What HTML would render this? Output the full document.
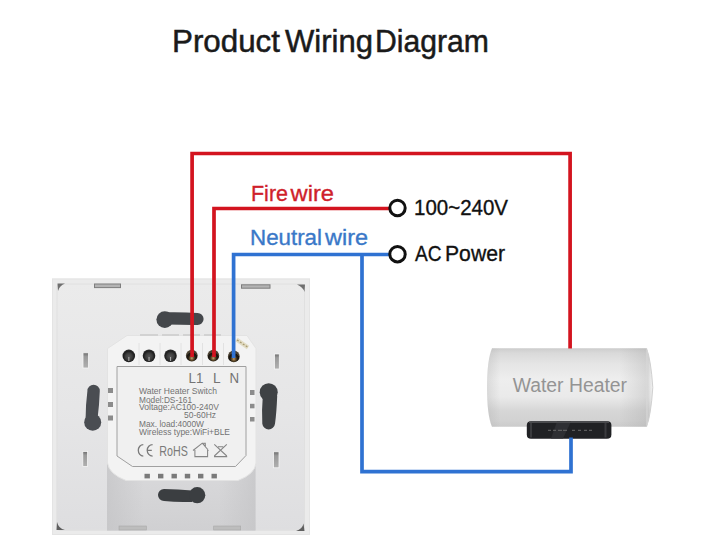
<!DOCTYPE html>
<html><head><meta charset="utf-8">
<style>
html,body{margin:0;padding:0;background:#fff;width:707px;height:560px;overflow:hidden;}
svg{display:block;font-family:"Liberation Sans",sans-serif;}
</style></head>
<body>
<svg width="707" height="560" viewBox="0 0 707 560">
<defs>
  <linearGradient id="faceG" x1="0" y1="0" x2="0" y2="1">
    <stop offset="0" stop-color="#ebebeb"/>
    <stop offset="0.5" stop-color="#e6e6e7"/>
    <stop offset="1" stop-color="#dedee0"/>
  </linearGradient>
  <linearGradient id="shadowG" x1="0" y1="0" x2="0" y2="1">
    <stop offset="0" stop-color="#dadadc"/>
    <stop offset="1" stop-color="#d0d0d2"/>
  </linearGradient>
  <linearGradient id="shadowEdge" x1="0" y1="0" x2="1" y2="0">
    <stop offset="0" stop-color="#c4c4c6" stop-opacity="0.7"/>
    <stop offset="0.25" stop-color="#c4c4c6" stop-opacity="0"/>
    <stop offset="0.75" stop-color="#c4c4c6" stop-opacity="0"/>
    <stop offset="1" stop-color="#c4c4c6" stop-opacity="0.7"/>
  </linearGradient>
  <linearGradient id="heaterG" x1="0" y1="0" x2="0" y2="1">
    <stop offset="0" stop-color="#cccccc"/>
    <stop offset="0.06" stop-color="#d9d9d9"/>
    <stop offset="0.2" stop-color="#e5e5e5"/>
    <stop offset="0.4" stop-color="#eeeeee"/>
    <stop offset="0.62" stop-color="#eaeaea"/>
    <stop offset="0.8" stop-color="#d6d6d6"/>
    <stop offset="0.92" stop-color="#d2d2d2"/>
    <stop offset="1" stop-color="#cbcbcb"/>
  </linearGradient>
  <linearGradient id="heaterH" x1="0" y1="0" x2="1" y2="0">
    <stop offset="0" stop-color="#a0a0a0" stop-opacity="0.25"/>
    <stop offset="0.08" stop-color="#a0a0a0" stop-opacity="0"/>
    <stop offset="0.8" stop-color="#a0a0a0" stop-opacity="0"/>
    <stop offset="0.97" stop-color="#a0a0a0" stop-opacity="0.3"/>
    <stop offset="1" stop-color="#ffffff" stop-opacity="0.2"/>
  </linearGradient>
  <radialGradient id="termDark" cx="0.5" cy="0.55" r="0.5">
    <stop offset="0" stop-color="#555"/>
    <stop offset="0.55" stop-color="#3a3a3a"/>
    <stop offset="0.85" stop-color="#1e1e1e"/>
    <stop offset="1" stop-color="#2a2a2a"/>
  </radialGradient>
  <radialGradient id="termCu" cx="0.5" cy="0.72" r="0.5">
    <stop offset="0" stop-color="#c8a070"/>
    <stop offset="0.3" stop-color="#6e5530"/>
    <stop offset="0.6" stop-color="#221c12"/>
    <stop offset="0.9" stop-color="#17140f"/>
    <stop offset="1" stop-color="#4a4030"/>
  </radialGradient>
  <linearGradient id="smallG" x1="0" y1="0" x2="0" y2="1">
    <stop offset="0" stop-color="#6e6e6e"/>
    <stop offset="0.25" stop-color="#9a9a9a"/>
    <stop offset="1" stop-color="#b0b0b0"/>
  </linearGradient>
</defs>

<!-- Title -->
<g fill="#1a1a1a" stroke="#1a1a1a" stroke-width="0.5" font-size="31">
<text x="172" y="52" textLength="108" lengthAdjust="spacingAndGlyphs">Product</text>
<text x="285" y="52" textLength="88" lengthAdjust="spacingAndGlyphs">Wiring</text>
<text x="375" y="52" textLength="114" lengthAdjust="spacingAndGlyphs">Diagram</text>
</g>

<!-- ===== Switch panel ===== -->
<rect x="52" y="278.5" width="258" height="256.5" fill="#ebebeb"/>
<rect x="52.5" y="279" width="257" height="255.5" fill="none" stroke="#e4e4e4" stroke-width="1"/>
<rect x="56.5" y="283.5" width="248.5" height="247" rx="3" fill="url(#faceG)"/>
<rect x="57" y="284" width="247.5" height="246" rx="3" fill="none" stroke="#e0e0e0" stroke-width="1"/>
<!-- corner triangles -->
<path d="M57.5 283.5 H65 Q59.5 285.5 58 291 Z" fill="#6f6f6f"/>
<path d="M305 284.5 H297 Q303 287 304.5 292 Z" fill="#6f6f6f"/>
<path d="M56.5 530 H65 Q58.5 528.5 57 522 Z" fill="#5f5f5f"/>
<path d="M304.5 531 H296 Q302.5 529 303.5 523.5 Z" fill="#5f5f5f"/>

<!-- shadow under module -->
<rect x="107" y="462" width="148.5" height="68.5" fill="url(#shadowG)"/>
<rect x="107" y="462" width="148.5" height="68.5" fill="url(#shadowEdge)"/>

<!-- top clips -->
<rect x="94.5" y="284" width="26" height="3.6" fill="#b4b4b4" stroke="#7e7e7e" stroke-width="1"/>
<rect x="241.5" y="284.8" width="28.5" height="3.4" fill="#b4b4b4" stroke="#7e7e7e" stroke-width="1"/>
<!-- bottom clips -->
<rect x="119" y="526" width="27.5" height="4" fill="#bdbdbd" stroke="#a8a8a8" stroke-width="0.6"/>
<rect x="213.7" y="526" width="27" height="4" fill="#bdbdbd" stroke="#a8a8a8" stroke-width="0.6"/>

<!-- slots -->
<g fill="#43464a">
<path d="M166 312.2 Q184 311.9 197.6 312.9 A6 6 0 0 1 197.6 324.9 Q184 325 166 324.5 Z" fill="#44474b"/>
<circle cx="164.8" cy="319.6" r="8.4" fill="#44474b"/>
<path d="M164 489 Q178 489.2 192 490.4 L192 501.9 Q178 502.6 164 501 A6 6 0 0 1 164 489 Z" fill="#3b3e41"/>
<circle cx="197.2" cy="495.2" r="8.1" fill="#3b3e41"/>
<path d="M87.4 391 A6.2 6.2 0 0 1 99.8 391 Q99.3 405 97.6 418 L85.6 419 Q85.6 405 87.4 391 Z" fill="#4a4d52"/>
<circle cx="92.7" cy="422.2" r="8.5" fill="#4a4d52"/>
<path d="M262.8 396 L277.2 396 Q276.6 412 275 423.8 A6.4 6.4 0 0 1 262.3 423.8 Q261.6 410 262.8 396 Z" fill="#3f4245"/>
<circle cx="268.7" cy="392.2" r="9" fill="#3f4245"/>
</g>

<!-- small rects on face -->
<g fill="url(#smallG)" stroke="#f6f6f6" stroke-width="0.8">
<rect x="83" y="352.8" width="5.4" height="15.2"/>
<rect x="82.8" y="451.5" width="4.8" height="15"/>
<rect x="274.5" y="354" width="4.8" height="15"/>
<rect x="273.5" y="451.8" width="5.5" height="16"/>
</g>

<!-- module body -->
<path d="M127 335.5 H247 L256 348.5 V463 Q255 474 238 480.5 H126 Q109 474 107.5 463 V348.5 Z" fill="#f3f3f3" stroke="#e3e3e3" stroke-width="1"/>
<!-- terminal strip separators -->
<g stroke="#e2e2e2" stroke-width="1">
<line x1="139" y1="343" x2="139" y2="365"/>
<line x1="160" y1="343" x2="160" y2="365"/>
<line x1="181" y1="343" x2="181" y2="365"/>
<line x1="202.5" y1="343" x2="202.5" y2="365"/>
<line x1="223.5" y1="343" x2="223.5" y2="365"/>
</g>
<g fill="#d2d2d2">
<rect x="140" y="334" width="18" height="2"/>
<rect x="162" y="334" width="17" height="2"/>
<rect x="183" y="334" width="17" height="2"/>
<rect x="204" y="334" width="17" height="2"/>
</g>
<!-- label box -->
<path d="M117 366.5 H246 V455.5 L235.5 466.5 H132.5 L117 456 Z" fill="#f0f0f0" stroke="#a0a0a0" stroke-width="1"/>

<!-- vents bottom -->
<g fill="#7a7a7a">
<rect x="144.5" y="473.8" width="5.4" height="4.6"/>
<rect x="158" y="473.8" width="5.4" height="4.6"/>
<rect x="171.5" y="473.8" width="5.4" height="4.6"/>
<rect x="184.8" y="473.8" width="5.4" height="4.6"/>
<rect x="198" y="473.8" width="5.4" height="4.6"/>
<rect x="211.5" y="473.8" width="5.4" height="4.6"/>
</g>
<!-- side vents of module -->
<g fill="#8c8c8c">
<rect x="108" y="388" width="5" height="5"/>
<rect x="108" y="402" width="5" height="5"/>
<rect x="108" y="415.5" width="5" height="5"/>
<rect x="250" y="390" width="4.5" height="5"/>
<rect x="250" y="403.8" width="4.5" height="4.5"/>
<rect x="250" y="417" width="4.5" height="4.5"/>
</g>

<!-- terminals -->
<circle cx="128.8" cy="355.9" r="6.3" fill="url(#termDark)"/>
<circle cx="149" cy="355.8" r="6.3" fill="url(#termDark)"/>
<circle cx="170.5" cy="355.8" r="6.3" fill="url(#termDark)"/>
<g fill="#a8a8a8">
<rect x="128.3" y="357" width="1.1" height="4"/>
<rect x="148.5" y="357" width="1.1" height="4"/>
<rect x="170" y="357" width="1.1" height="4"/>
</g>
<circle cx="191.8" cy="355.6" r="5.9" fill="url(#termCu)"/>
<circle cx="213.3" cy="355.6" r="5.9" fill="url(#termCu)"/>
<circle cx="233.8" cy="356.4" r="5.9" fill="url(#termCu)"/>
<!-- jumper -->
<path d="M236.5 339.5 L248 347.5" stroke="#e2dcc4" stroke-width="4"/><path d="M237 340 L247.5 347" stroke="#a89a70" stroke-width="1.2" stroke-dasharray="2 1.5"/>

<!-- label text -->
<g fill="#747474">
<text x="188.6" y="382.6" font-size="15.3" textLength="14.8" lengthAdjust="spacingAndGlyphs">L1</text>
<text x="213" y="382.6" font-size="15.3" textLength="7.6" lengthAdjust="spacingAndGlyphs">L</text>
<text x="229.6" y="382.6" font-size="15.3" textLength="9.6" lengthAdjust="spacingAndGlyphs">N</text>
</g>
<g fill="#727272">
<text x="139" y="394" font-size="8.6" textLength="78" lengthAdjust="spacingAndGlyphs">Water Heater Switch</text>
<text x="139" y="402.5" font-size="8.6" textLength="53" lengthAdjust="spacingAndGlyphs">Model:DS-161</text>
<text x="139" y="410" font-size="8.6" textLength="80" lengthAdjust="spacingAndGlyphs">Voltage:AC100-240V</text>
<text x="184" y="418.4" font-size="8.6" textLength="32" lengthAdjust="spacingAndGlyphs">50-60Hz</text>
<text x="139" y="427.4" font-size="8.6" textLength="65" lengthAdjust="spacingAndGlyphs">Max. load:4000W</text>
<text x="139" y="435" font-size="8.6" textLength="91" lengthAdjust="spacingAndGlyphs">Wireless type:WiFi+BLE</text>
</g>
<g fill="none" stroke="#7a7a7a" stroke-width="1.3">
<!-- CE -->
<path d="M143.3 444.6 A5 5.75 0 0 0 143.3 456.1"/>
<path d="M152.6 444.6 A5.4 5.75 0 0 0 152.6 456.1 M147.6 450.4 H151.8"/>
</g>
<text x="159.3" y="456.2" font-size="15.5" fill="#7a7a7a" textLength="28.5" lengthAdjust="spacingAndGlyphs">RoHS</text>
<!-- house icon -->
<path d="M193 450.5 L202.3 443.2 L208.6 450.5 M194.9 448.8 V456.6 H207.6 V448.8 M203.8 444.5 V443.3 H205.3 V446.3" fill="none" stroke="#858585" stroke-width="1.05"/>
<!-- WEEE icon -->
<path d="M214.3 444.4 L226.8 456 M226.8 444.4 L214.3 456 M218 446.8 H223.2 M214 456.6 H227.2" fill="none" stroke="#858585" stroke-width="1.05"/>

<!-- ===== Water heater ===== -->
<path d="M492 348.2 H646.5 Q651 360 652.8 387.5 Q651 415 646.5 426.8 H492 Q487 415 487 387.5 Q487 360 492 348.2 Z" fill="url(#heaterG)"/>
<path d="M492 348.2 H646.5 Q651 360 652.8 387.5 Q651 415 646.5 426.8 H492 Q487 415 487 387.5 Q487 360 492 348.2 Z" fill="url(#heaterH)"/>
<path d="M646.5 348.2 Q651 360 652.8 387.5 Q651 415 646.5 426.8" fill="none" stroke="#d0d0d0" stroke-width="1"/>
<line x1="647" y1="350" x2="647" y2="425" stroke="#dadada" stroke-width="1"/>
<text x="512.7" y="392" font-size="19.5" fill="#949494" textLength="114.3" lengthAdjust="spacingAndGlyphs">Water Heater</text>
<path d="M531 421.2 H607.5 Q611.4 421.2 611.4 425 V434.5 Q611.4 438.8 607 438.8 H531 Q526.8 438.8 526.8 434.5 V425 Q526.8 421.2 531 421.2 Z" fill="#202124"/>
<rect x="530" y="422.5" width="2" height="15" fill="#3a3b3e"/>
<rect x="604.5" y="422.5" width="2" height="15" fill="#3a3b3e"/>
<path d="M557 421.5 H571 L563 438.5 H551 Z" fill="#2e2f33"/>
<g fill="#6a6a6a">
<rect x="548" y="429.8" width="3" height="1"/>
<rect x="553" y="429.8" width="3" height="1"/>
<rect x="558" y="429.8" width="4" height="1"/>
<rect x="563" y="429.8" width="4" height="1"/>
<rect x="572" y="429.8" width="3" height="1"/>
<rect x="578" y="429.8" width="3" height="1"/>
<rect x="584" y="429.8" width="3" height="1"/>
<rect x="589" y="429.8" width="3" height="1"/>
</g>
<rect x="529" y="421.6" width="80" height="1.4" fill="#4a4b4e"/>

<!-- ===== Wires ===== -->
<g fill="none" stroke-linejoin="miter" stroke-linecap="butt">
<path d="M192.1 357 V153.5 H570.1 V348.5" stroke="#d3141f" stroke-width="3.7"/>
<path d="M214 357 V208.5 H389" stroke="#d3141f" stroke-width="3.7"/>
<path d="M233.6 358 V254.5 H389" stroke="#2f72d2" stroke-width="3.7"/>
<path d="M362 254.5 V471.7 H571 V437.5" stroke="#2f72d2" stroke-width="3.7"/>
</g>

<!-- terminal circles -->
<circle cx="397.5" cy="208" r="7.7" fill="#fff" stroke="#111" stroke-width="3"/>
<circle cx="397.5" cy="254.2" r="7.7" fill="#fff" stroke="#111" stroke-width="3"/>

<!-- labels -->
<g fill="#cf1f2b" stroke="#cf1f2b" stroke-width="0.35" font-size="22.5">
<text x="251" y="200.5" textLength="37" lengthAdjust="spacingAndGlyphs">Fire</text>
<text x="290.5" y="200.5" textLength="43.5" lengthAdjust="spacingAndGlyphs">wire</text>
</g>
<g fill="#3a78c8" stroke="#3a78c8" stroke-width="0.35" font-size="22">
<text x="250" y="245" textLength="72" lengthAdjust="spacingAndGlyphs">Neutral</text>
<text x="325" y="245" textLength="43" lengthAdjust="spacingAndGlyphs">wire</text>
</g>
<g fill="#111" stroke="#111" stroke-width="0.35" font-size="22">
<text x="414" y="215.2" textLength="94" lengthAdjust="spacingAndGlyphs">100~240V</text>
<text x="415" y="260.5" textLength="26.5" lengthAdjust="spacingAndGlyphs">AC</text>
<text x="445" y="260.5" textLength="60" lengthAdjust="spacingAndGlyphs">Power</text>
</g>
</svg>
</body></html>
